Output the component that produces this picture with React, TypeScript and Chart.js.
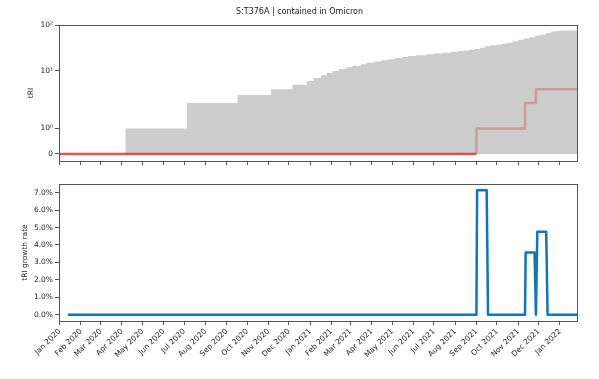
import React, { useEffect, useRef } from 'react';
import { Chart, registerables, LinearScale } from 'chart.js';

Chart.register(...registerables);

// ---------- data (x = days since 2020-01-01) ----------
const X_MIN = -1; // 2019-12-31
const X_MAX = 756; // 2022-01-26

const MONTH_TICK_LABELS = [
  'Jan 2020', 'Feb 2020', 'Mar 2020', 'Apr 2020', 'May 2020', 'Jun 2020',
  'Jul 2020', 'Aug 2020', 'Sep 2020', 'Oct 2020', 'Nov 2020', 'Dec 2020',
  'Jan 2021', 'Feb 2021', 'Mar 2021', 'Apr 2021', 'May 2021', 'Jun 2021',
  'Jul 2021', 'Aug 2021', 'Sep 2021', 'Oct 2021', 'Nov 2021', 'Dec 2021',
  'Jan 2022',
];

// total tRI (grey area), value changes
const totalDays = [96, 186, 260, 309, 340, 361, 371, 382, 390, 399, 408, 419, 428, 440, 448, 460, 470, 480, 490, 500, 509, 521, 536, 548, 560, 572, 582, 590, 598, 606, 614, 622, 630, 638, 646, 654, 662, 670, 678, 686, 694, 702, 710, 718, 726, 734, 756];
const totalTRI = [1, 2, 3, 4, 5, 6, 7, 8, 9, 10, 11, 12, 13, 14, 15, 16, 17, 18, 19, 20, 21, 22, 23, 24, 25, 26, 27, 28, 29, 30, 32, 35, 36, 37, 39, 41, 44, 48, 51, 54, 58, 61, 67, 72, 75, 76, 76];

// tRI of S:T376A (red step line)
const mutDays = [-1, 609, 609, 680, 696, 756];
const mutTRI = [0, 0, 1, 2, 4, 4];

// tRI growth rate (%)
const rateDays = [12, 609, 610, 624, 626, 680, 681, 694, 696, 698, 711, 713, 756];
const rateValues = [0, 0, 7.14, 7.14, 0, 0, 3.57, 3.57, 0, 4.76, 4.76, 0, 0];

const TRI_TICKS = [0, 1, 10, 100];
const TRI_TICK_LABELS = ['0', '10⁰', '10¹', '10²'];
const RATE_TICKS = [0, 1, 2, 3, 4, 5, 6, 7];
const RATE_TICK_LABELS = ['0.0%', '1.0%', '2.0%', '3.0%', '4.0%', '5.0%', '6.0%', '7.0%'];

const TITLE = 'S:T376A | contained in Omicron';

// ---------- helpers ----------
const MONTH_INDEX: Record<string, number> = { Jan: 0, Feb: 1, Mar: 2, Apr: 3, May: 4, Jun: 5, Jul: 6, Aug: 7, Sep: 8, Oct: 9, Nov: 10, Dec: 11 };
const monthTickDays = MONTH_TICK_LABELS.map((l) => {
  const [m, y] = l.split(' ');
  return (Date.UTC(Number(y), MONTH_INDEX[m], 1) - Date.UTC(2020, 0, 1)) / 86400000;
});

const LINTHRESH = 2;
const LINSCALE_ADJ = 1 / (1 - 1 / 10);
function symlog(v: number) {
  const a = Math.abs(v);
  if (a <= LINTHRESH) return v * LINSCALE_ADJ;
  return Math.sign(v) * LINTHRESH * (LINSCALE_ADJ + Math.log10(a / LINTHRESH));
}
function invSymlog(t: number) {
  const a = Math.abs(t);
  if (a <= LINTHRESH * LINSCALE_ADJ) return t / LINSCALE_ADJ;
  return Math.sign(t) * LINTHRESH * Math.pow(10, a / LINTHRESH - LINSCALE_ADJ);
}

class SymlogScale extends LinearScale {
  static id = 'symlog';
  static defaults = {};
  configure() {
    super.configure();
    (this as any)._tMin = symlog((this as any).min);
    (this as any)._tMax = symlog((this as any).max);
  }
  getPixelForValue(value: number) {
    if (value === null || value === undefined || isNaN(value)) return NaN;
    const s = this as any;
    return s.getPixelForDecimal((symlog(value) - s._tMin) / (s._tMax - s._tMin));
  }
  getValueForPixel(pixel: number) {
    const s = this as any;
    return invSymlog(s._tMin + s.getDecimalForPixel(pixel) * (s._tMax - s._tMin));
  }
}
Chart.register(SymlogScale as any);

const AXIS = '#555555';
const TEXT = '#1a1a1a';
const FONT = '"DejaVu Sans", sans-serif';
Chart.defaults.font.family = FONT;
Chart.defaults.font.size = 7.5;
Chart.defaults.color = TEXT;

const framePlugin = {
  id: 'frame',
  afterDraw(chart: any) {
    const { ctx, chartArea: a } = chart;
    ctx.save();
    ctx.strokeStyle = AXIS;
    ctx.lineWidth = 1;
    const l = Math.floor(a.left) + 0.5;
    const t = Math.floor(a.top) + 0.5;
    const r = Math.floor(a.right) + 0.5;
    const b = Math.floor(a.bottom) + 0.5;
    ctx.strokeRect(l, t, r - l, b - t);
    ctx.restore();
  },
};

const titlePlugin = {
  id: 'figTitle',
  afterDraw(chart: any) {
    const { ctx } = chart;
    ctx.save();
    ctx.fillStyle = TEXT;
    ctx.font = `8px ${FONT}`;
    ctx.textAlign = 'center';
    ctx.textBaseline = 'middle';
    ctx.fillText(TITLE, 299.5, 12);
    ctx.restore();
  },
};

function xScale(showLabels: boolean, height: number) {
  return {
    type: 'linear',
    min: X_MIN,
    max: X_MAX,
    afterBuildTicks: (s: any) => {
      s.ticks = monthTickDays.map((v) => ({ value: v }));
    },
    afterFit: (s: any) => {
      s.height = height;
    },
    grid: { display: true, drawOnChartArea: false, drawTicks: true, tickLength: 4, color: AXIS, tickColor: AXIS, tickWidth: 1 },
    border: { display: false },
    ticks: {
      display: showLabels,
      autoSkip: false,
      minRotation: 45,
      maxRotation: 45,
      padding: 2,
      color: TEXT,
      font: { size: 7.5 },
      callback: (_v: any, i: number) => MONTH_TICK_LABELS[i],
    },
  };
}

export default function App() {
  const topRef = useRef<HTMLCanvasElement>(null);
  const botRef = useRef<HTMLCanvasElement>(null);

  useEffect(() => {
    const top = new Chart(topRef.current as HTMLCanvasElement, {
      type: 'line',
      data: {
        datasets: [
          {
            label: 'S:T376A',
            data: mutDays.map((d, i) => ({ x: d, y: mutTRI[i] })),
            stepped: 'before',
            borderWidth: 2.5,
            borderColor: 'rgba(214,39,40,0.3)',
            borderJoinStyle: 'round',
            segment: {
              borderColor: (c: any) =>
                c.p0.parsed.y === 0 && c.p1.parsed.y === 0 ? 'rgba(220,45,40,0.8)' : 'rgba(214,39,40,0.3)',
            },
            pointRadius: 0,
            fill: false,
            order: 0,
          },
          {
            label: 'total',
            data: totalDays.map((d, i) => ({ x: d, y: totalTRI[i] })),
            stepped: 'before',
            borderWidth: 0,
            borderColor: 'rgba(0,0,0,0)',
            backgroundColor: '#cccccc',
            fill: { value: 0 },
            pointRadius: 0,
            order: 1,
          },
        ],
      },
      options: {
        responsive: false,
        animation: false,
        events: [],
        layout: { padding: { left: 0, right: 22, top: 25, bottom: 0 } },
        plugins: { legend: { display: false }, tooltip: { enabled: false } },
        scales: {
          x: xScale(false, 9) as any,
          y: {
            type: 'symlog',
            min: -0.275,
            max: 100,
            afterBuildTicks: (s: any) => {
              s.ticks = TRI_TICKS.map((v) => ({ value: v }));
            },
            afterFit: (s: any) => {
              s.width = 59;
            },
            grid: { display: true, drawOnChartArea: false, tickLength: 4, color: AXIS, tickColor: AXIS },
            border: { display: false },
            ticks: { padding: 2, color: TEXT, callback: (_v: any, i: number) => TRI_TICK_LABELS[i] },
            title: { display: true, text: 'tRI', color: TEXT, font: { size: 7.5 }, padding: { top: 27, bottom: 0 } },
          } as any,
        },
      },
      plugins: [framePlugin, titlePlugin],
    } as any);

    const bot = new Chart(botRef.current as HTMLCanvasElement, {
      type: 'line',
      data: {
        datasets: [
          {
            label: 'tRI growth rate',
            data: rateDays.map((d, i) => ({ x: d, y: rateValues[i] })),
            borderWidth: 2.5,
            borderColor: '#0f75bc',
            borderJoinStyle: 'round',
            pointRadius: 0,
            fill: false,
          },
        ],
      },
      options: {
        responsive: false,
        animation: false,
        events: [],
        layout: { padding: { left: 0, right: 22, top: 14, bottom: 0 } },
        plugins: { legend: { display: false }, tooltip: { enabled: false } },
        scales: {
          x: xScale(true, 58) as any,
          y: {
            type: 'linear',
            min: -0.357,
            max: 7.497,
            afterBuildTicks: (s: any) => {
              s.ticks = RATE_TICKS.map((v) => ({ value: v }));
            },
            afterFit: (s: any) => {
              s.width = 59;
            },
            grid: { display: true, drawOnChartArea: false, tickLength: 4, color: AXIS, tickColor: AXIS },
            border: { display: false },
            ticks: { padding: 2, color: TEXT, callback: (_v: any, i: number) => RATE_TICK_LABELS[i] },
            title: { display: true, text: 'tRI growth rate', color: TEXT, font: { size: 7.5 }, padding: { top: 20.5, bottom: 0 } },
          } as any,
        },
      },
      plugins: [framePlugin],
    } as any);

    return () => {
      top.destroy();
      bot.destroy();
    };
  }, []);

  return (
    <div style={{ position: 'fixed', left: 0, top: 0, width: 599, height: 379, background: '#ffffff' }}>
      <canvas ref={topRef} width={599} height={170} style={{ position: 'absolute', left: 0, top: 0, width: 599, height: 170 }} />
      <canvas ref={botRef} width={599} height={209} style={{ position: 'absolute', left: 0, top: 170, width: 599, height: 209 }} />
    </div>
  );
}
